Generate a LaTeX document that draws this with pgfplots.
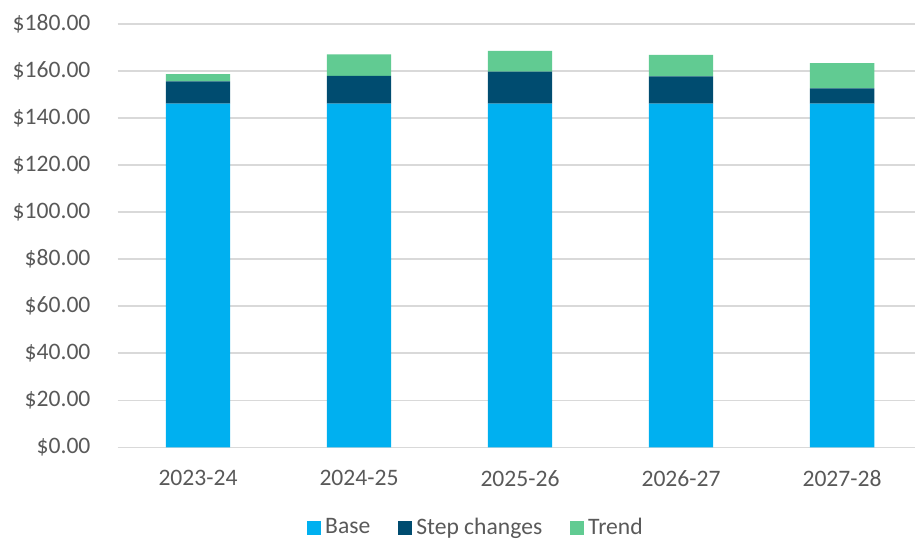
\documentclass[border=0pt]{standalone}
\usepackage{fontspec}
\setmainfont{Carlito}
\usepackage{pgfplots}
\usepackage{pgfplotstable}
\pgfplotsset{compat=1.18}

\definecolor{basec}{RGB}{0,176,240}
\definecolor{stepc}{RGB}{0,76,112}
\definecolor{trendc}{RGB}{97,203,146}
\definecolor{gridc}{RGB}{217,217,217}
\definecolor{textc}{RGB}{89,89,89}

% Cost build-up by year
\pgfplotstableread{
x base step trend
0 146.1 9.5 3.1
1 146.1 11.8 9.2
2 146.1 13.6 8.9
3 146.1 11.6 9.2
4 146.1 6.5 10.8
}\costdata

\begin{document}
\begin{tikzpicture}
\begin{axis}[
  at={(58.75pt,46.85pt)}, anchor=south west,
  scale only axis, width=398.5pt, height=211.65pt,
  ybar stacked, bar width=0.4,
  xmin=-0.5, xmax=4.45, ymin=0, ymax=180,
  xtick=data,
  xticklabels={2023-24,2024-25,2025-26,2026-27,2027-28},
  ytick={0,20,...,180},
  ymajorgrids, grid style={gridc, line width=0.75pt},
  axis line style={draw=none},
  major tick length=0pt, tick style={draw=none},
  tick label style={font=\fontsize{11.8}{14}\selectfont, text=textc},
  xticklabel style={yshift=-8pt},
  yticklabel style={xshift=-10pt},
  /pgf/number format/assume math mode=true,
  yticklabel={\$\pgfmathprintnumber[fixed,fixed zerofill,precision=2,1000 sep={}]{\tick}},
  legend columns=3,
  legend style={at={(0.451,-0.19)}, anchor=center, draw=none, fill=none,
    font=\fontsize{11.8}{14}\selectfont, text=textc,
    /tikz/every even column/.append style={column sep=12pt}},
  legend image code/.code={\fill[#1] (0pt,-3.5pt) rectangle (7pt,3.5pt);},
]
\addplot[fill=basec, draw=none] table[x=x, y=base] {\costdata};
\addplot[fill=stepc, draw=none] table[x=x, y=step] {\costdata};
\addplot[fill=trendc, draw=none] table[x=x, y=trend] {\costdata};
\legend{Base, Step changes, Trend}
\end{axis}
\pgfresetboundingbox
\path[use as bounding box] (0,0) rectangle (458pt,270.5pt);
\end{tikzpicture}
\end{document}
